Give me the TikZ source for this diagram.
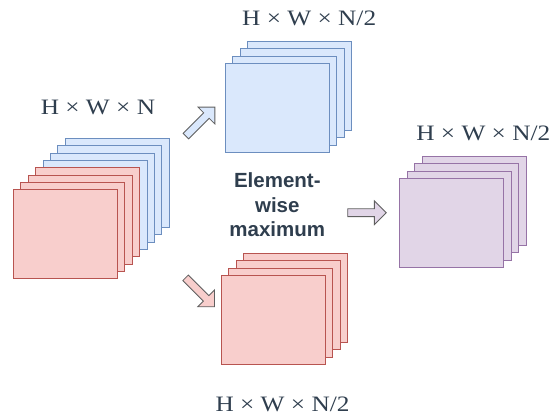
\documentclass[tikz,border=0pt]{standalone}
\usepackage{fontspec}
\usetikzlibrary{shapes.arrows, positioning, calc}
\newfontfamily\dimfont[FakeStretch=1.15]{Liberation Serif}
\newfontfamily\rotfont{Liberation Sans}
\definecolor{tinta}{HTML}{2F3E4E}
\definecolor{azulfondo}{HTML}{DAE8FC}
\definecolor{azulborde}{HTML}{6C8EBF}
\definecolor{rojofondo}{HTML}{F8CECC}
\definecolor{rojoborde}{HTML}{B85450}
\definecolor{lilafondo}{HTML}{E1D5E7}
\definecolor{lilaborde}{HTML}{9673A6}
\definecolor{grisflecha}{HTML}{5F5F5F}
\tikzset{
  capa/.style={rectangle, minimum width=104pt, minimum height=89pt, inner sep=0pt, line width=0.8pt},
  capaazul/.style={capa, draw=azulborde, fill=azulfondo},
  caparoja/.style={capa, draw=rojoborde, fill=rojofondo},
  capalila/.style={capa, draw=lilaborde, fill=lilafondo},
  flecha/.style={single arrow, draw=grisflecha, line width=0.8pt, inner sep=3.5pt,
                 single arrow head extend=8pt, single arrow tip angle=90},
  etiqueta/.style={font=\dimfont\fontsize{22}{26}\selectfont, text=tinta, anchor=base, inner sep=0pt},
  rotulo/.style={font=\rotfont\bfseries\fontsize{20.5}{24.5}\selectfont, text=tinta, align=center, inner sep=0pt}
}
\begin{document}
\begin{tikzpicture}[x=1pt, y=-1pt]
  \useasboundingbox (0,0) rectangle (552,418);
  % entrada: N mapas, mitad azul detras, mitad roja delante
  \foreach \i in {7,...,4}
    \node (ent-\i) [capaazul] at ({65.3+7.4*\i},{234.3-7.35*\i}) {};
  \foreach \i in {3,...,0}
    \node (ent-\i) [caparoja] at ({65.3+7.4*\i},{234.3-7.35*\i}) {};
  \node (diment) [etiqueta] at (97.9,114.3) {H × W × N};

  % las dos mitades
  \foreach \i in {3,...,0}
    \node (sup-\i) [capaazul] at ({277.2+7.4*\i},{108.3-7.5*\i}) {};
  \node (dimsup) [etiqueta] at (309.2,25.3) {H × W × N/2};
  \foreach \i in {3,...,0}
    \node (inf-\i) [caparoja] at ({273.3+7.4*\i},{319.7-7.3*\i}) {};
  \node (diminf) [etiqueta] at (282.5,411.7) {H × W × N/2};

  % salida
  \foreach \i in {3,...,0}
    \node (sal-\i) [capalila] at ({451.7+7.4*\i},{223.3-7.5*\i}) {};
  \node (dimsal) [etiqueta] at (483.3,140.7) {H × W × N/2};

  \node (flechasup) [flecha, fill=azulfondo, rotate=45, minimum height=41pt] at (199,123) {};
  \node (flechainf) [flecha, fill=rojofondo, rotate=-45, minimum height=41pt] at (198.7,290.9) {};
  \node (flechasal) [flecha, fill=lilafondo, minimum height=38.6pt] at (365,212.7) {};

  \node (maximo) [rotulo] at (277.3,205) {Element-\\wise\\maximum};
\end{tikzpicture}
\end{document}
